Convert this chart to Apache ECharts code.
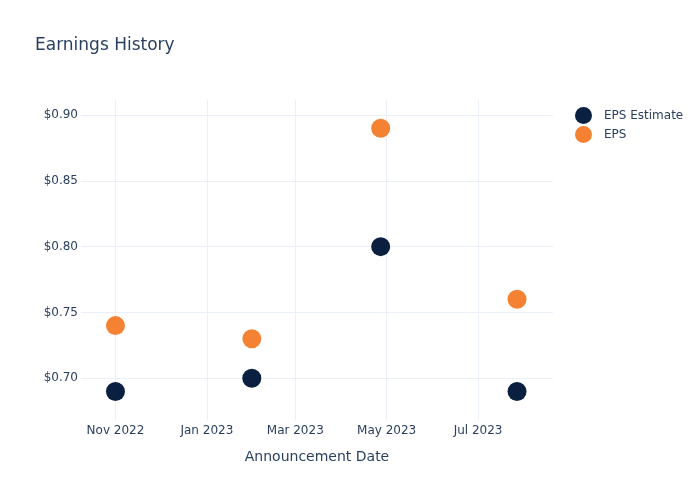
<!DOCTYPE html>
<html><head><meta charset="utf-8">
<script src="https://cdn.jsdelivr.net/npm/echarts@6/dist/echarts.min.js"></script>
<style>html,body{margin:0;padding:0;background:#fff}#c{width:700px;height:500px}</style>
</head><body><div id="c"></div>
<script>
const dates = ['2022-11-01', '2023-01-31', '2023-04-27', '2023-07-27'];
const epsEstimate = [0.69, 0.70, 0.80, 0.69];
const eps = [0.74, 0.73, 0.89, 0.76];
const xTicks = ['2022-11-01', '2023-01-01', '2023-03-01', '2023-05-01', '2023-07-01'];
const yTicks = [0.70, 0.75, 0.80, 0.85, 0.90];
const monthNames = ['Jan','Feb','Mar','Apr','May','Jun','Jul','Aug','Sep','Oct','Nov','Dec'];
const ts = s => Date.parse(s + 'T00:00:00Z');
const font = '"DejaVu Sans", sans-serif';
const textColor = '#2a3f5f';
const chart = echarts.init(document.getElementById('c'));
chart.setOption({
  animation: false,
  title: { text: 'Earnings History', left: 30, top: 32,
    textStyle: { fontFamily: font, fontSize: 17, fontWeight: 'normal', color: textColor } },
  legend: { orient: 'vertical', left: 570, top: 102, itemWidth: 17, itemHeight: 17, itemGap: 2,
    icon: 'circle', textStyle: { fontFamily: font, fontSize: 12, color: textColor, padding: [0, 0, 0, 7] } },
  grid: { left: 81, right: 147, top: 100, bottom: 80 },
  xAxis: {
    type: 'value', min: ts('2022-10-09'), max: ts('2023-08-20'),
    name: 'Announcement Date', nameLocation: 'middle', nameGap: 30,
    nameTextStyle: { fontFamily: font, fontSize: 14, color: textColor },
    axisLine: { show: false },
    axisTick: { show: false, customValues: xTicks.map(ts) },
    axisLabel: { customValues: xTicks.map(ts), fontFamily: font, fontSize: 12, color: textColor, margin: 5,
      formatter: v => { const d = new Date(v); return monthNames[d.getUTCMonth()] + ' ' + d.getUTCFullYear(); } },
    splitLine: { show: true, lineStyle: { color: '#ebf0f8', width: 1 } }
  },
  yAxis: {
    type: 'value', min: 0.6683, max: 0.9114,
    axisLine: { show: false },
    axisTick: { show: false, customValues: yTicks },
    axisLabel: { customValues: yTicks, fontFamily: font, fontSize: 12, color: textColor, margin: 3,
      formatter: v => '$' + v.toFixed(2) },
    splitLine: { show: true, lineStyle: { color: '#ebf0f8', width: 1 } }
  },
  series: [
    { name: 'EPS Estimate', type: 'scatter', symbolSize: 19,
      itemStyle: { color: '#0b1f40', opacity: 1 },
      data: dates.map((d, i) => [ts(d), epsEstimate[i]]) },
    { name: 'EPS', type: 'scatter', symbolSize: 19,
      itemStyle: { color: '#f58233', opacity: 1 },
      data: dates.map((d, i) => [ts(d), eps[i]]) }
  ]
});
</script></body></html>
